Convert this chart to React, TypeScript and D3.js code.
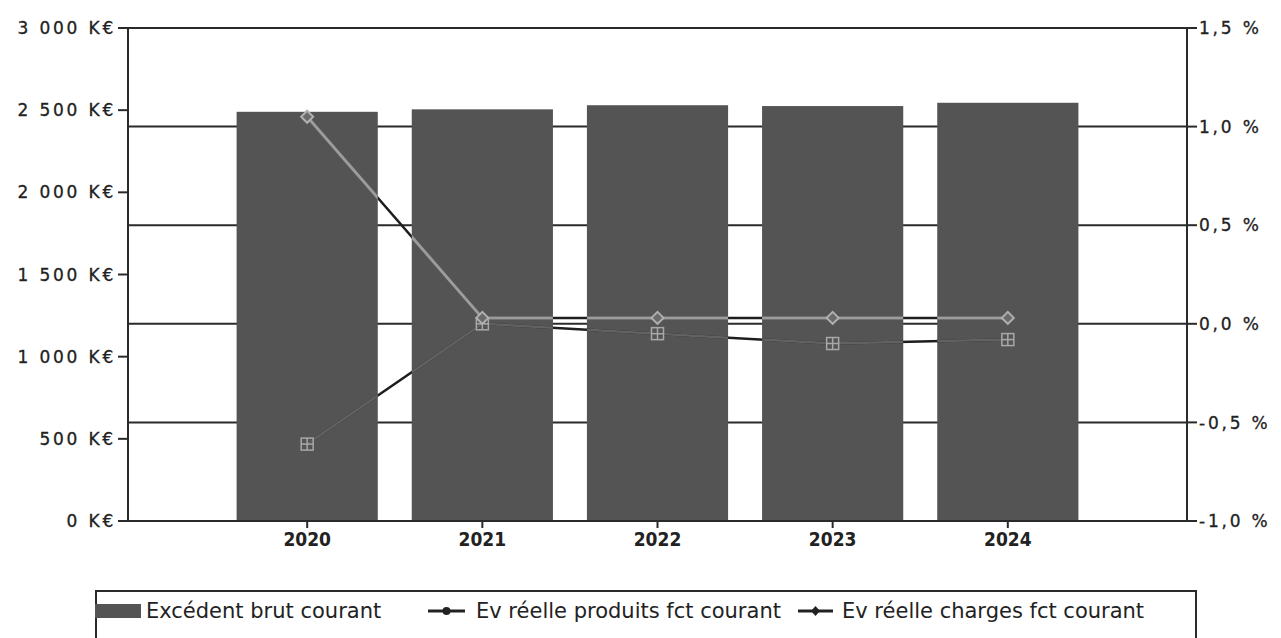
import React from 'react';
import * as d3 from 'd3';

const years = ['2020', '2021', '2022', '2023', '2024'];
const excedentBrut = [2490, 2505, 2530, 2525, 2545];
const evProduits = [1.05, 0.03, 0.03, 0.03, 0.03];
const evCharges = [-0.61, 0.0, -0.05, -0.1, -0.08];
const leftTicks = [0, 500, 1000, 1500, 2000, 2500, 3000];
const rightTicks = [-1.0, -0.5, 0.0, 0.5, 1.0, 1.5];
const legendLabels = ['Excédent brut courant', 'Ev réelle produits fct courant', 'Ev réelle charges fct courant'];

const W = 1281;
const H = 638;
const left = 128;
const right = 1187;
const top = 28;
const bottom = 521;

const fmtK = (v: number) => {
  const s = String(v);
  const withSpace = s.length > 3 ? s.slice(0, s.length - 3) + ' ' + s.slice(s.length - 3) : s;
  return withSpace + ' K€';
};
const fmtPct = (v: number) => v.toFixed(1).replace('.', ',') + ' %';

export default function App() {
  const x = d3.scaleBand<string>().domain(years).range([left, right]).paddingInner(0.194).paddingOuter(0.62);
  const yL = d3.scaleLinear().domain([0, 3000]).range([bottom, top]);
  const yR = d3.scaleLinear().domain([-1, 1.5]).range([bottom, top]);
  const cx = (y: string) => (x(y) as number) + x.bandwidth() / 2;

  const lineGen = d3
    .line<number>()
    .x((_, i) => cx(years[i]))
    .y((d) => yR(d));

  const pathP = lineGen(evProduits) || '';
  const pathC = lineGen(evCharges) || '';

  const axisColor = '#2a2a2a';
  const barColor = '#545454';
  const font = '"DejaVu Sans", Verdana, sans-serif';

  return (
    <svg width={W} height={H} style={{ position: 'absolute', left: 0, top: 0, background: '#fff' }} fontFamily={font}>
      <defs>
        <clipPath id="barsClip">
          {years.map((yr, i) => (
            <rect key={yr} x={x(yr)} y={yL(excedentBrut[i])} width={x.bandwidth()} height={bottom - yL(excedentBrut[i])} />
          ))}
        </clipPath>
      </defs>

      {/* gridlines (right axis) */}
      {rightTicks.map((t) => (
        <line key={'g' + t} x1={left} x2={right} y1={yR(t)} y2={yR(t)} stroke={axisColor} strokeWidth={2} />
      ))}

      {/* bars */}
      {years.map((yr, i) => (
        <rect key={'b' + yr} x={x(yr)} y={yL(excedentBrut[i])} width={x.bandwidth()} height={bottom - yL(excedentBrut[i])} fill={barColor} />
      ))}

      {/* lines outside bars */}
      <path d={pathP} fill="none" stroke="#1e1e1e" strokeWidth={2.5} />
      <path d={pathC} fill="none" stroke="#1e1e1e" strokeWidth={2.5} />
      {/* lines over bars */}
      <g clipPath="url(#barsClip)">
        <path d={pathP} fill="none" stroke="#9c9c9c" strokeWidth={3} />
        <path d={pathC} fill="none" stroke="#626262" strokeWidth={2.5} />
      </g>

      {/* markers */}
      {evCharges.map((v, i) => {
        const px = cx(years[i]);
        const py = yR(v);
        return (
          <g key={'sq' + i} stroke="#a8a8a8" strokeWidth={1.5} fill="none">
            <rect x={px - 6} y={py - 6} width={12} height={12} />
            <line x1={px} x2={px} y1={py - 6} y2={py + 6} />
            <line x1={px - 6} x2={px + 6} y1={py} y2={py} />
          </g>
        );
      })}
      {evProduits.map((v, i) => {
        const px = cx(years[i]);
        const py = yR(v);
        return (
          <path
            key={'dm' + i}
            d={`M${px},${py - 6}L${px + 6},${py}L${px},${py + 6}L${px - 6},${py}Z`}
            fill="#6a6a6a"
            stroke="#b0b0b0"
            strokeWidth={2}
          />
        );
      })}

      {/* frame */}
      <line x1={left} x2={right} y1={top} y2={top} stroke={axisColor} strokeWidth={2} />
      <line x1={left} x2={right} y1={bottom} y2={bottom} stroke={axisColor} strokeWidth={2} />
      <line x1={left} x2={left} y1={top} y2={bottom} stroke={axisColor} strokeWidth={2} />
      <line x1={right} x2={right} y1={top} y2={bottom} stroke={axisColor} strokeWidth={2} />

      {/* left axis */}
      {leftTicks.map((t) => (
        <g key={'l' + t}>
          <line x1={left - 10} x2={left} y1={yL(t)} y2={yL(t)} stroke={axisColor} strokeWidth={2} />
          <text x={116} y={yL(t)} dy="0.36em" textAnchor="end" fontSize={17} letterSpacing={2.8} fill="#222" stroke="#222" strokeWidth={0.3}>
            {fmtK(t)}
          </text>
        </g>
      ))}

      {/* right axis */}
      {rightTicks.map((t) => (
        <g key={'r' + t}>
          <line x1={right} x2={right + 10} y1={yR(t)} y2={yR(t)} stroke={axisColor} strokeWidth={2} />
          <text x={right + 12} y={yR(t)} dy="0.36em" textAnchor="start" fontSize={17} letterSpacing={2.8} fill="#222" stroke="#222" strokeWidth={0.3}>
            {fmtPct(t)}
          </text>
        </g>
      ))}

      {/* bottom axis */}
      {years.map((yr) => (
        <g key={'x' + yr}>
          <line x1={cx(yr)} x2={cx(yr)} y1={bottom} y2={bottom + 7} stroke={axisColor} strokeWidth={2} />
          <text x={cx(yr)} y={546} textAnchor="middle" fontSize={19} fontWeight="bold" fontFamily='"DejaVu Sans Condensed", "DejaVu Sans", sans-serif' fill="#222">
            {yr}
          </text>
        </g>
      ))}

      {/* legend */}
      <rect x={96} y={591} width={1100} height={60} fill="none" stroke={axisColor} strokeWidth={2} />
      <rect x={95} y={604} width={46} height={14} fill={barColor} />
      <text x={146} y={618} fontSize={21} fill="#222">{legendLabels[0]}</text>
      <g>
        <line x1={428} x2={465} y1={611} y2={611} stroke="#222" strokeWidth={3} />
        <circle cx={446.5} cy={611} r={4} fill="#222" />
        <text x={476} y={618} fontSize={21} fill="#222">{legendLabels[1]}</text>
      </g>
      <g>
        <line x1={798} x2={833} y1={611} y2={611} stroke="#222" strokeWidth={3} />
        <path d="M815.5,606L820,611L815.5,616L811,611Z" fill="#222" />
        <text x={842} y={618} fontSize={21} fill="#222">{legendLabels[2]}</text>
      </g>
    </svg>
  );
}
